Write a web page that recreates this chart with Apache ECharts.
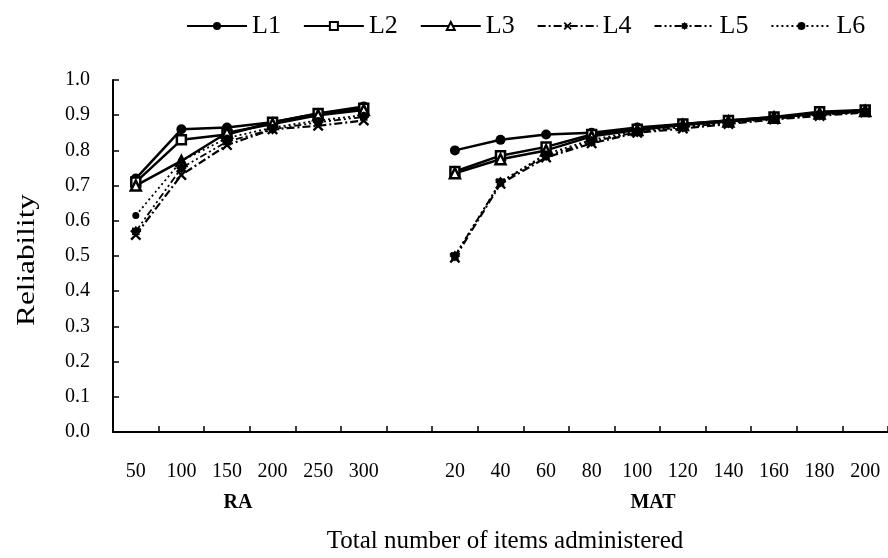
<!DOCTYPE html>
<html>
<head>
<meta charset="utf-8">
<script src="https://cdn.jsdelivr.net/npm/echarts@6/dist/echarts.min.js"></script>
<style>
  html, body { margin: 0; padding: 0; background: #fff; }
  #chart { width: 888px; height: 558px; }
</style>
</head>
<body>
<div id="chart"></div>
<script>
// Test lengths: RA block, an empty spacer slot, then the MAT block
const raLengths  = ['50', '100', '150', '200', '250', '300'];
const matLengths = ['20', '40', '60', '80', '100', '120', '140', '160', '180', '200'];
const yTicks = [0, 0.1, 0.2, 0.3, 0.4, 0.5, 0.6, 0.7, 0.8, 0.9, 1.0];

// Reliability per condition (RA values, then MAT values)
const L1_ra  = [0.72, 0.86, 0.865, 0.88, 0.905, 0.925];
const L1_mat = [0.80, 0.83, 0.845, 0.85, 0.865, 0.875, 0.885, 0.895, 0.905, 0.915];
const L2_ra  = [0.71, 0.83, 0.845, 0.88, 0.905, 0.92];
const L2_mat = [0.74, 0.785, 0.81, 0.845, 0.86, 0.875, 0.885, 0.895, 0.91, 0.915];
const L3_ra  = [0.70, 0.77, 0.85, 0.875, 0.90, 0.915];
const L3_mat = [0.735, 0.775, 0.80, 0.84, 0.858, 0.872, 0.882, 0.893, 0.905, 0.912];
const L4_ra  = [0.56, 0.73, 0.815, 0.86, 0.87, 0.885];
const L4_mat = [0.495, 0.705, 0.78, 0.82, 0.85, 0.862, 0.875, 0.888, 0.898, 0.908];
const L5_ra  = [0.57, 0.75, 0.825, 0.86, 0.88, 0.895];
const L5_mat = [0.50, 0.71, 0.785, 0.825, 0.852, 0.866, 0.878, 0.89, 0.90, 0.91];
const L6_ra  = [0.615, 0.77, 0.835, 0.865, 0.885, 0.90];
const L6_mat = [0.50, 0.71, 0.79, 0.83, 0.855, 0.868, 0.88, 0.892, 0.902, 0.91];

const FONT = "'Liberation Serif', 'Times New Roman', serif";
const categories = raLengths.concat(['']).concat(matLengths);
const join = (a, b) => a.concat([null]).concat(b);

// Marker shapes
const crossPath = 'path://M0,1.5 L1.5,0 L5,3.5 L8.5,0 L10,1.5 L6.5,5 L10,8.5 L8.5,10 L5,6.5 L1.5,10 L0,8.5 L3.5,5 Z';
function burstPath() {
  const pts = [];
  const n = 16;
  for (let i = 0; i < n; i++) {
    const r = i % 2 === 0 ? 5 : 3.6;
    const a = (Math.PI * 2 * i) / n;
    pts.push((5 + r * Math.cos(a)).toFixed(2) + ',' + (5 + r * Math.sin(a)).toFixed(2));
  }
  return 'path://M' + pts.join(' L') + ' Z';
}

function line(name, data, opts) {
  return Object.assign({
    name: name,
    type: 'line',
    data: data,
    connectNulls: false,
    animation: false,
    lineStyle: { color: '#000', width: 2.5, type: 'solid' },
    itemStyle: { color: '#000', borderColor: '#000', borderWidth: 0 },
    symbol: 'circle',
    symbolSize: 9,
    showAllSymbol: true
  }, opts);
}

const series = [
  line('L1', join(L1_ra, L1_mat), { symbol: 'circle', symbolSize: 10 }),
  line('L2', join(L2_ra, L2_mat), {
    symbol: 'rect', symbolSize: 9,
    itemStyle: { color: '#fff', borderColor: '#000', borderWidth: 2.5 }
  }),
  line('L3', join(L3_ra, L3_mat), {
    symbol: 'triangle', symbolSize: 10,
    itemStyle: { color: '#fff', borderColor: '#000', borderWidth: 2.5 }
  }),
  line('L4', join(L4_ra, L4_mat), {
    symbol: crossPath, symbolSize: 11,
    lineStyle: { color: '#000', width: 2.2, type: [8, 3, 2, 3] }
  }),
  line('L5', join(L5_ra, L5_mat), {
    symbol: burstPath(), symbolSize: 11,
    lineStyle: { color: '#000', width: 1.8, type: [7, 3, 2, 3, 2, 3] }
  }),
  line('L6', join(L6_ra, L6_mat), {
    symbol: 'circle', symbolSize: 7,
    lineStyle: { color: '#000', width: 1.8, type: [2, 3] }
  })
];

const chart = echarts.init(document.getElementById('chart'), null, { renderer: 'canvas' });
chart.setOption({
  backgroundColor: '#fff',
  animation: false,
  textStyle: { fontFamily: FONT, color: '#000' },
  legend: {
    top: 8,
    left: 181,
    itemWidth: 60,
    itemHeight: 10,
    itemGap: 22,
    textStyle: { fontFamily: FONT, fontSize: 26, color: '#000' },
    data: ['L1', 'L2', 'L3', 'L4', 'L5', 'L6']
  },
  grid: { left: 113, top: 80, width: 790, height: 352 },
  xAxis: {
    type: 'category',
    data: categories,
    boundaryGap: true,
    axisLine: { show: true, lineStyle: { color: '#000', width: 2 } },
    axisTick: { show: true, inside: true, length: 6, interval: 0, lineStyle: { color: '#000', width: 1.5 } },
    axisLabel: { interval: 0, margin: 30, fontFamily: FONT, fontSize: 20, color: '#000' },
    splitLine: { show: false }
  },
  yAxis: {
    type: 'value',
    min: 0,
    max: 1,
    interval: 0.1,
    axisLine: { show: true, lineStyle: { color: '#000', width: 2 } },
    axisTick: { show: true, inside: true, length: 6, lineStyle: { color: '#000', width: 1.5 } },
    axisLabel: {
      margin: 23, fontFamily: FONT, fontSize: 20, color: '#000',
      formatter: v => {
        const t = yTicks.find(k => Math.abs(k - v) < 1e-6);
        return (t !== undefined ? t : v).toFixed(1);
      }
    },
    splitLine: { show: false }
  },
  graphic: [
    {
      type: 'text', x: 27, y: 260, rotation: Math.PI / 2, scaleX: 1.25,
      style: { text: 'Reliability', font: '25px ' + FONT, fill: '#000', align: 'center', verticalAlign: 'middle' }
    },
    {
      type: 'text', x: 238, y: 503,
      style: { text: 'RA', font: 'bold 20px ' + FONT, fill: '#000', align: 'center', verticalAlign: 'middle' }
    },
    {
      type: 'text', x: 653, y: 503,
      style: { text: 'MAT', font: 'bold 20px ' + FONT, fill: '#000', align: 'center', verticalAlign: 'middle' }
    },
    {
      type: 'text', x: 505, y: 541,
      style: { text: 'Total number of items administered', font: '25px ' + FONT, fill: '#000', align: 'center', verticalAlign: 'middle' }
    }
  ],
  series: series
});
</script>
</body>
</html>
